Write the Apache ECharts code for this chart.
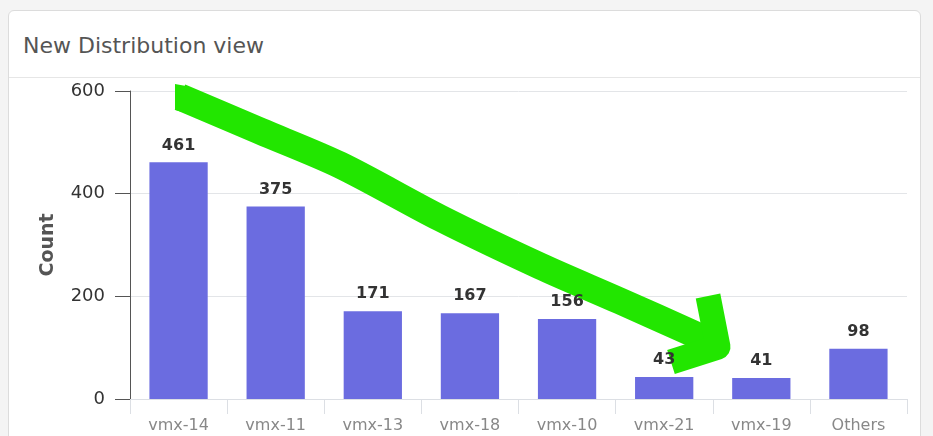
<!DOCTYPE html>
<html>
<head>
<meta charset="utf-8">
<script src="https://cdn.jsdelivr.net/npm/echarts@6/dist/echarts.min.js"></script>
<style>
  html, body { margin: 0; padding: 0; background: #f4f4f4; }
  body { width: 933px; height: 436px; position: relative; overflow: hidden; font-family: "DejaVu Sans", sans-serif; }
  .card { position: absolute; left: 8px; top: 10px; width: 913px; height: 440px; background: #fff;
          border: 1px solid #dcdcdc; border-radius: 6px; box-sizing: border-box; }
  .card-title { position: absolute; left: 14px; top: 21px; font-size: 22px; color: #555; line-height: 28px; }
  .card-sep { position: absolute; left: 0; right: 0; top: 66px; border-top: 1px solid #e6e6e6; }
  #chart { position: absolute; left: 0; top: 0; width: 933px; height: 436px; }
</style>
</head>
<body>
<div class="card">
  <div class="card-title">New Distribution view</div>
  <div class="card-sep"></div>
</div>
<div id="chart"></div>
<script>
const categories = ['vmx-14', 'vmx-11', 'vmx-13', 'vmx-18', 'vmx-10', 'vmx-21', 'vmx-19', 'Others'];
const counts = [461, 375, 171, 167, 156, 43, 41, 98];

const chart = echarts.init(document.getElementById('chart'));

// hand drawn green arrow (annotation on the screenshot)
const arrowStart = [[175, 84], [186, 86], [186, 113], [175, 110]];
const arrowLine = [[180, 97], [260, 131], [340, 165], [440, 218], [540, 266], [620, 301], [705, 339]];
const arrowHead = [[708, 296], [718, 347], [671, 362]];

const option = {
  animation: false,
  textStyle: { fontFamily: 'DejaVu Sans' },
  grid: { left: 130, right: 26, top: 91, bottom: 37 },
  xAxis: {
    type: 'category',
    data: categories,
    axisLine: { lineStyle: { color: '#dcdfe4' } },
    axisTick: { show: true, length: 15, lineStyle: { color: '#dcdfe4' } },
    axisLabel: { color: '#888', fontSize: 16, margin: 19 }
  },
  yAxis: {
    type: 'value',
    min: 0, max: 600, interval: 200,
    name: 'Count',
    nameLocation: 'middle',
    nameGap: 72,
    nameTextStyle: { color: '#555', fontSize: 19, fontWeight: 'bold' },
    axisLine: { show: true, lineStyle: { color: '#555' } },
    axisTick: { show: true, length: 15, lineStyle: { color: '#555' } },
    axisLabel: { color: '#333', fontSize: 18, margin: 25 },
    splitLine: { lineStyle: { color: '#e3e5e8' } }
  },
  series: [{
    type: 'bar',
    z: 3,
    data: counts,
    barWidth: '60%',
    itemStyle: { color: '#6b6ce0' },
    label: { show: true, position: 'top', distance: 9, color: '#333', fontSize: 16, fontWeight: 'bold' }
  }],
  graphic: [
    { type: 'polygon', z: 1, shape: { points: arrowStart }, style: { fill: '#22e600' } },
    { type: 'polyline', z: 1, shape: { points: arrowLine, smooth: 0.3 },
      style: { stroke: '#22e600', lineWidth: 27, fill: null, lineCap: 'butt', lineJoin: 'round' } },
    { type: 'polyline', z: 1, shape: { points: arrowHead },
      style: { stroke: '#22e600', lineWidth: 25, fill: null, lineCap: 'butt', lineJoin: 'round' } }
  ]
};
chart.setOption(option);
</script>
</body>
</html>
